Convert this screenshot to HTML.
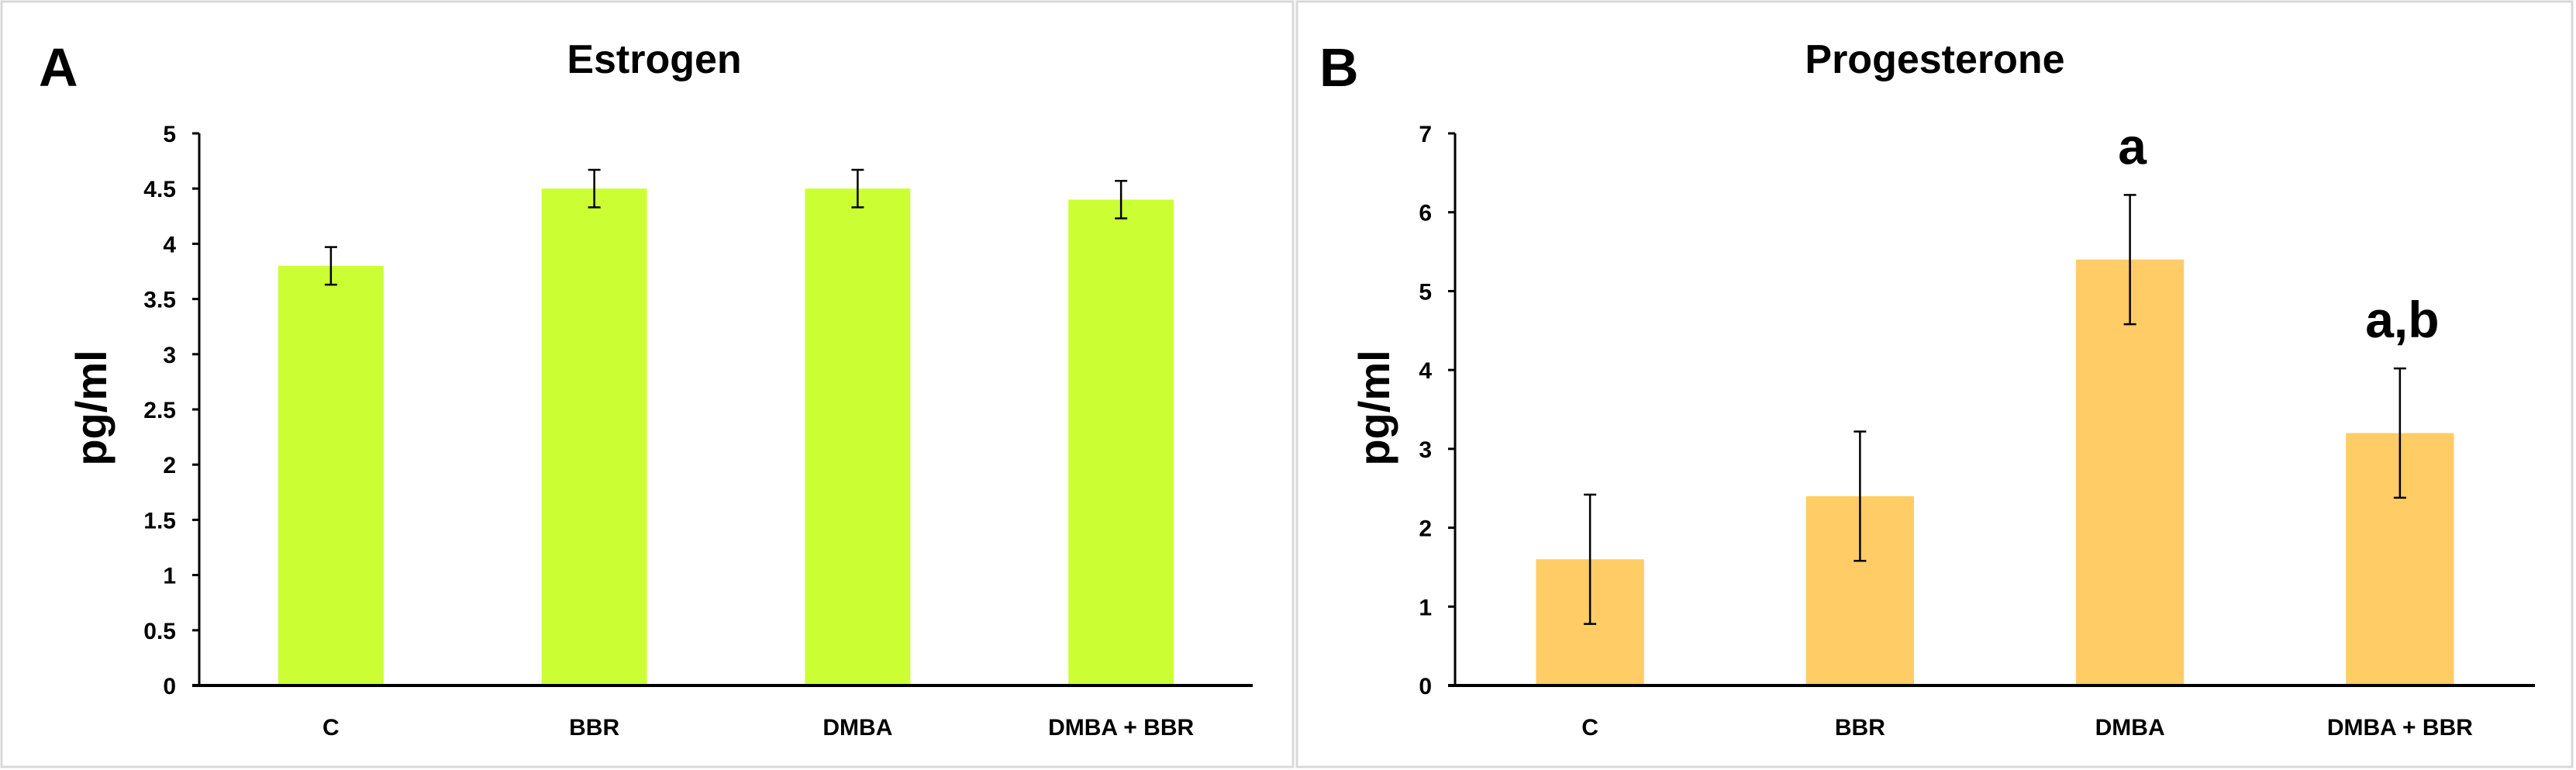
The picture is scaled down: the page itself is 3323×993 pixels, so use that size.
<!DOCTYPE html>
<html><head><meta charset="utf-8"><style>
html,body{margin:0;padding:0;background:#fff;}
svg{display:block;}
text{font-family:"Liberation Sans Narrow","Liberation Sans",sans-serif;font-weight:bold;fill:#000;}
</style></head><body>
<svg id="fig" width="3323" height="993" viewBox="0 0 3323 993" xmlns="http://www.w3.org/2000/svg">
<rect x="2" y="2" width="1666" height="987" fill="#fff" stroke="#d9d9d9" stroke-width="3"/>
<rect x="1673" y="2" width="1645" height="987" fill="#fff" stroke="#d9d9d9" stroke-width="3"/>
</svg>
<script>
const categories = ["C", "BBR", "DMBA", "DMBA + BBR"];
const estrogenValues = [3.8, 4.5, 4.5, 4.4];
const estrogenErrors = [0.17, 0.17, 0.17, 0.17];
const estrogenTicks = ["0","0.5","1","1.5","2","2.5","3","3.5","4","4.5","5"];
const progesteroneValues = [1.6, 2.4, 5.4, 3.2];
const progesteroneErrors = [0.82, 0.82, 0.82, 0.82];
const progesteroneTicks = ["0","1","2","3","4","5","6","7"];
const progesteroneLetters = ["", "", "a", "a,b"];

const NS = "http://www.w3.org/2000/svg";
const svg = document.getElementById("fig");
function mk(tag, attrs, parent) {
  const e = document.createElementNS(NS, tag);
  for (const k in attrs) e.setAttribute(k, attrs[k]);
  (parent || svg).appendChild(e);
  return e;
}

function drawPanel(p) {
  const g = mk("g", {});
  
  
  const yTop = 172, yBot = 884;
  const maxV = parseFloat(p.ticks[p.ticks.length - 1]);
  const y = v => yBot - (v / maxV) * (yBot - yTop);
  const band = (p.x1 - p.x0) / p.cats.length;
  const xc = i => p.x0 + band * (i + 0.5);

  let t = mk("text", {x: p.letterX, y: 111, "font-size": 70, "font-family": "Liberation Sans", "font-weight": "bold"}, g);
  t.textContent = p.letter;
  
  

  t = mk("text", {x: p.titleX, y: 94, "font-size": 52, "text-anchor": "middle"}, g);
  t.textContent = p.title;
  
  

  t = mk("text", {x: 0, y: 0, "font-size": 56, "text-anchor": "middle", "font-family": "Liberation Sans", transform: `translate(${p.yTitleX},526) rotate(-90)`}, g);
  t.textContent = "pg/ml";
  
  

  p.vals.forEach((v, i) => {
    const bw = band * 0.4;
    const r = mk("rect", {x: xc(i) - bw / 2, y: y(v), width: bw, height: yBot - y(v), fill: p.color}, g);
    
    
    const e = p.errs[i];
    const eg = mk("g", {stroke: "#000", "stroke-width": 2.5}, g);
    
    
    mk("line", {x1: xc(i), x2: xc(i), y1: y(v + e), y2: y(v - e)}, eg);
    mk("line", {x1: xc(i) - 8, x2: xc(i) + 8, y1: y(v + e), y2: y(v + e)}, eg);
    mk("line", {x1: xc(i) - 8, x2: xc(i) + 8, y1: y(v - e), y2: y(v - e)}, eg);
    const lt = mk("text", {x: xc(i), y: 948, "font-size": 30, "text-anchor": "middle"}, g);
    lt.textContent = p.cats[i];
    
    
    if (p.sig && p.sig[i]) {
      const st = mk("text", {x: xc(i) + 3, y: y(v + e) - 40, "font-size": 66, "text-anchor": "middle", "font-family": "Liberation Sans"}, g);
      st.textContent = p.sig[i];
      
      
    }
  });

  const ax = mk("g", {stroke: "#000"}, g);
  
  
  mk("line", {x1: p.x0, x2: p.x0, y1: yTop, y2: yBot, "stroke-width": 3}, ax);
  mk("line", {x1: p.x0 - 9, x2: p.x1, y1: yBot, y2: yBot, "stroke-width": 4}, ax);
  p.ticks.forEach(tk => {
    const v = parseFloat(tk);
    mk("line", {x1: p.x0 - 9, x2: p.x0, y1: y(v), y2: y(v), "stroke-width": 3}, ax);
    const tt = mk("text", {x: p.x0 - 30, y: y(v) + 11, "font-size": 30, "text-anchor": "end"}, g);
    tt.textContent = tk;
    
    
  });
}

drawPanel({id: "estrogen", letter: "A", letterX: 50, title: "Estrogen", titleX: 844, yTitleX: 137,
  x0: 257, x1: 1616, cats: categories, vals: estrogenValues, errs: estrogenErrors, ticks: estrogenTicks, color: "#CCFF33"});
drawPanel({id: "progesterone", letter: "B", letterX: 1702, title: "Progesterone", titleX: 2496, yTitleX: 1792,
  x0: 1877, x1: 3270, cats: categories, vals: progesteroneValues, errs: progesteroneErrors, ticks: progesteroneTicks, color: "#FFCC66", sig: progesteroneLetters});
</script>
</body></html>
